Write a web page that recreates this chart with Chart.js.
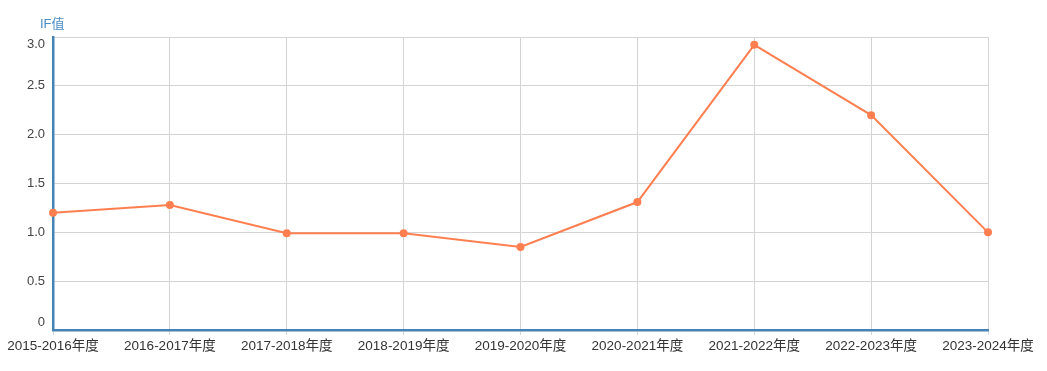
<!DOCTYPE html>
<html>
<head>
<meta charset="utf-8">
<script src="https://cdn.jsdelivr.net/npm/chart.js@4"></script>
<style>
	html, body { margin: 0; padding: 0; background: #fff; }
	#wrap { width: 1047px; height: 371px; }
</style>
</head>
<body>
<div id="wrap"><canvas id="ifChart" width="1047" height="371"></canvas></div>
<script>
const years = ['2015-2016年度', '2016-2017年度', '2017-2018年度', '2018-2019年度', '2019-2020年度', '2020-2021年度', '2021-2022年度', '2022-2023年度', '2023-2024年度'];
const ifValues = [1.2, 1.28, 0.99, 0.99, 0.85, 1.31, 2.92, 2.2, 1.0];
const yTicks = [0, 0.5, 1.0, 1.5, 2.0, 2.5, 3.0];
const yTitle = 'IF值';

const fontFamily = '"Liberation Sans", Arial, "Noto Sans CJK SC", sans-serif';
const axisBlue = '#4682b4';

const yTitlePlugin = {
	id: 'yTitle',
	afterDraw(chart) {
		const ctx = chart.ctx;
		const area = chart.chartArea;
		ctx.save();
		ctx.font = '13px ' + fontFamily;
		ctx.fillStyle = '#4a8bc2';
		ctx.textAlign = 'left';
		ctx.textBaseline = 'middle';
		ctx.fillText(yTitle, area.left - 13, area.top - 13);
		ctx.restore();
	},
};

const chart = new Chart(document.getElementById('ifChart'), {
	type: 'line',
	data: {
		labels: years,
		datasets: [
			{
				label: yTitle,
				data: ifValues,
				borderColor: '#ff7f50',
				backgroundColor: '#ff7f50',
				borderWidth: 2,
				pointRadius: 3,
				pointHoverRadius: 4,
				tension: 0,
			},
		],
	},
	options: {
		responsive: false,
		animation: false,
		layout: {
			padding: { left: 0, right: 59, top: 37, bottom: 0 },
		},
		plugins: {
			legend: { display: false },
			tooltip: { enabled: false },
		},
		scales: {
			x: {
				offset: false,
				grid: {
					color: '#d4d4d4',
					tickLength: 5,
				},
				border: { color: axisBlue, width: 2.5 },
				ticks: {
					color: '#333',
					font: { size: 13.5, family: fontFamily },
					maxRotation: 0,
					autoSkip: false,
					padding: 3,
				},
				afterFit(scale) {
					scale.height = 41;
				},
			},
			y: {
				min: 0,
				max: 3,
				afterBuildTicks(scale) {
					scale.ticks = yTicks.map((v) => ({ value: v }));
				},
				grid: {
					color: '#d4d4d4',
					drawTicks: false,
				},
				border: { color: axisBlue, width: 2.5 },
				ticks: {
					color: '#444',
					font: { size: 13, family: fontFamily, lineHeight: 1.1 },
					padding: 8,
					// keep the end labels inside the axis range
					callback: (v) => {
						if (v === 0) return ['0', ''];
						if (v === 3) return ['', '3.0'];
						return v.toFixed(1);
					},
				},
				afterFit(scale) {
					scale.width = 53;
				},
			},
		},
	},
	plugins: [yTitlePlugin],
});
</script>
</body>
</html>
